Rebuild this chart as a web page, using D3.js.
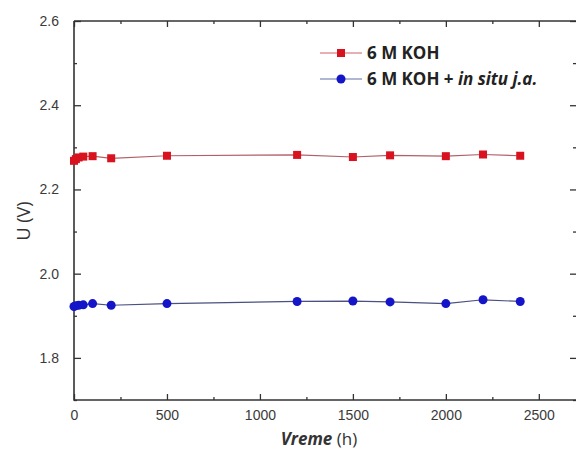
<!DOCTYPE html>
<html>
<head>
<meta charset="utf-8">
<script src="https://cdn.jsdelivr.net/npm/d3@7"></script>
<style>
  body { margin: 0; background: #fff; }
  svg { display: block; }
</style>
</head>
<body>
<svg id="chart"></svg>
<script>
// data
const hours = [0, 10, 25, 50, 100, 200, 500, 1200, 1500, 1700, 2000, 2200, 2400];
const kohVolts = [2.268, 2.272, 2.276, 2.278, 2.279, 2.274, 2.280, 2.282, 2.277, 2.281, 2.279, 2.283, 2.280];
const kohJaVolts = [1.922, 1.924, 1.925, 1.926, 1.929, 1.925, 1.929, 1.934, 1.935, 1.933, 1.929, 1.938, 1.934];
const xTicks = [0, 500, 1000, 1500, 2000, 2500];
const yTicks = [1.8, 2.0, 2.2, 2.4, 2.6];

const width = 577;
const height = 452;
const margin = { top: 21, right: 1, bottom: 52, left: 74 };

const svg = d3.select("#chart")
  .attr("width", width)
  .attr("height", height);

const x = d3.scaleLinear()
  .domain([0, 2700])
  .range([margin.left, width - margin.right]);

const y = d3.scaleLinear()
  .domain([1.7, 2.6])
  .range([height - margin.bottom, margin.top]);

const axisColor = "#333";
const labelFont = "'Liberation Sans', Arial, sans-serif";

// frame axes, ticks point inward
function styleAxis(g) {
  g.select(".domain").remove();
  g.selectAll("line").attr("stroke", axisColor).attr("stroke-width", 1.3);
  g.selectAll("text")
    .attr("fill", "#3a3a3a")
    .style("font-family", labelFont)
    .style("font-size", "14px");
}

const xMinor = d3.range(250, 2700, 500);
const yMinor = [1.7, 1.9, 2.1, 2.3, 2.5];

// bottom
svg.append("g")
  .attr("transform", `translate(0,${y(1.7)})`)
  .call(d3.axisBottom(x).tickValues(xTicks).tickSize(-6).tickPadding(10).tickFormat(d3.format("d")))
  .call(styleAxis);
svg.append("g")
  .attr("transform", `translate(0,${y(1.7)})`)
  .call(d3.axisBottom(x).tickValues(xMinor).tickSize(-3).tickFormat(""))
  .call(styleAxis);

// top
svg.append("g")
  .attr("transform", `translate(0,${y(2.6)})`)
  .call(d3.axisTop(x).tickValues(xTicks).tickSize(-6).tickFormat(""))
  .call(styleAxis);
svg.append("g")
  .attr("transform", `translate(0,${y(2.6)})`)
  .call(d3.axisTop(x).tickValues(xMinor).tickSize(-3).tickFormat(""))
  .call(styleAxis);

// left
svg.append("g")
  .attr("transform", `translate(${x(0)},0)`)
  .call(d3.axisLeft(y).tickValues(yTicks).tickSize(-7).tickPadding(15).tickFormat(d3.format(".1f")))
  .call(styleAxis);
svg.append("g")
  .attr("transform", `translate(${x(0)},0)`)
  .call(d3.axisLeft(y).tickValues(yMinor).tickSize(-3).tickFormat(""))
  .call(styleAxis);

// right
svg.append("g")
  .attr("transform", `translate(${x(2700)},0)`)
  .call(d3.axisRight(y).tickValues(yTicks).tickSize(-6).tickFormat(""))
  .call(styleAxis);
svg.append("g")
  .attr("transform", `translate(${x(2700)},0)`)
  .call(d3.axisRight(y).tickValues(yMinor).tickSize(-3).tickFormat(""))
  .call(styleAxis);

// frame lines
svg.append("path")
  .attr("d", `M${x(0)},${y(2.6)} V${y(1.7)} H${x(2700)}`)
  .attr("fill", "none")
  .attr("stroke", axisColor)
  .attr("stroke-width", 1.6);
svg.append("path")
  .attr("d", `M${x(0)},${y(2.6)} H${x(2700)}`)
  .attr("fill", "none")
  .attr("stroke", axisColor)
  .attr("stroke-width", 1.6);

// series
const red = "#d8131f";
const blue = "#1414c8";

const line = d3.line()
  .x(d => x(d[0]))
  .y(d => y(d[1]));

const kohData = hours.map((h, i) => [h, kohVolts[i]]);
const jaData = hours.map((h, i) => [h, kohJaVolts[i]]);

svg.append("path")
  .datum(kohData)
  .attr("d", line)
  .attr("fill", "none")
  .attr("stroke", "#b06068")
  .attr("stroke-width", 1.2);

svg.append("path")
  .datum(jaData)
  .attr("d", line)
  .attr("fill", "none")
  .attr("stroke", "#4a5080")
  .attr("stroke-width", 1.2);

svg.selectAll(".sq")
  .data(kohData)
  .enter()
  .append("rect")
  .attr("class", "sq")
  .attr("x", d => x(d[0]) - 4)
  .attr("y", d => y(d[1]) - 4)
  .attr("width", 8)
  .attr("height", 8)
  .attr("fill", red);

svg.selectAll(".dot")
  .data(jaData)
  .enter()
  .append("circle")
  .attr("class", "dot")
  .attr("cx", d => x(d[0]))
  .attr("cy", d => y(d[1]))
  .attr("r", 4.5)
  .attr("fill", blue);

// axis titles
svg.append("text")
  .attr("transform", `translate(30,${221}) rotate(-90)`)
  .attr("text-anchor", "middle")
  .attr("fill", "#333")
  .style("font-family", "'Open Sans', sans-serif")
  .style("font-size", "18px")
  .text("U (V)");

const xt = svg.append("text")
  .attr("x", 319)
  .attr("y", 445)
  .attr("text-anchor", "middle")
  .attr("fill", "#333")
  .style("font-family", "'Open Sans', sans-serif")
  .style("font-size", "17px");
xt.append("tspan").style("font-weight", "bold").style("font-style", "italic").text("Vreme");
xt.append("tspan").text(" (h)");

// legend
const legend = svg.append("g").attr("transform", "translate(320,53)");

legend.append("line")
  .attr("x1", 0).attr("x2", 42).attr("y1", 0).attr("y2", 0)
  .attr("stroke", "#d06068").attr("stroke-width", 1.2);
legend.append("rect")
  .attr("x", 17).attr("y", -4).attr("width", 8).attr("height", 8)
  .attr("fill", red);
legend.append("text")
  .attr("x", 47).attr("y", 6)
  .attr("fill", "#222")
  .style("font-family", "'Open Sans', sans-serif")
  .style("font-size", "17px")
  .style("font-weight", "bold")
  .text("6 M KOH");

legend.append("line")
  .attr("x1", 0).attr("x2", 42).attr("y1", 26).attr("y2", 26)
  .attr("stroke", "#6070a8").attr("stroke-width", 1.2);
legend.append("circle")
  .attr("cx", 21).attr("cy", 26).attr("r", 4.5)
  .attr("fill", blue);
const lt = legend.append("text")
  .attr("x", 47).attr("y", 32)
  .attr("fill", "#222")
  .style("font-family", "'Open Sans', sans-serif")
  .style("font-size", "17px")
  .style("font-weight", "bold");
lt.append("tspan").text("6 M KOH + ");
lt.append("tspan").style("font-style", "italic").text("in situ j.a.");
</script>
</body>
</html>
